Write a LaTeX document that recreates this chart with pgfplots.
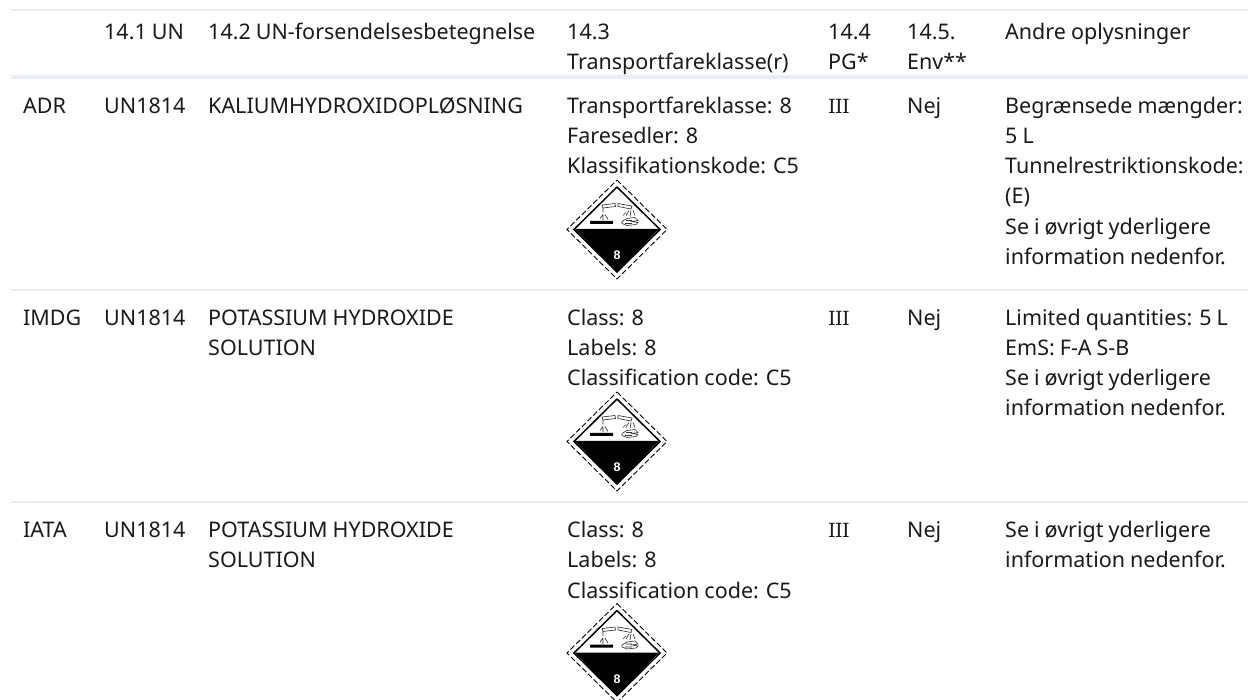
\documentclass[border=0pt]{standalone}
\usepackage{pgfplots}
\usepackage{pgfplotstable}
\pgfplotsset{compat=1.18}
\usepackage{fontspec}
\setmainfont[WordSpace=0.9]{Noto Sans}
\newfontfamily\serifnum{DejaVu Serif}
\newfontfamily\numfont{Liberation Sans}
\definecolor{rulec}{HTML}{E8EEF6}
\definecolor{txt}{HTML}{1A1A1A}
\newcommand{\T}[3]{\node[anchor=base west,inner sep=0pt,text=txt,font=\fontsize{21.5}{21.5}\selectfont] at (axis cs:#1,#2) {#3};}
\newcommand{\III}{{\serifnum\fontsize{19.5}{19.5}\selectfont I\kern-0.8pt I\kern-0.8pt I}}
\pgfplotstableread{
x y
0 -49.5
50 0
0 49.5
-50 0
0 -49.5
}\outerD
\pgfplotstableread{
x y
0 -42.5
43 0
0 42.5
-43 0
0 -42.5
}\innerD
\pgfplotstableread{
x y
-42 -0.5
42 -0.5
0 42.5
-42 -0.5
}\blackD
\pgfplotstableread{
x y
-27 -8.5
-4 -8.5
-4 -5.5
-27 -5.5
-27 -8.5
}\barD
\pgfplotstableread{
x y
-15 -24.5
-2 -26
-1.5 -23
-14 -21.5
-15 -24.5
nan nan
-14 -21.5
-14 -17
nan nan
1 -26
15 -23.5
14 -20.5
1 -23
1 -26
nan nan
-14 -15
-17 -11
nan nan
-14 -15
-14 -9
nan nan
-12 -15
-9 -10
nan nan
12 -19
9 -14
nan nan
14 -19
13 -13
nan nan
16 -19
18 -14
nan nan
9 -17
6 -14
nan nan
5 -8
10 -11
18 -12
21 -9
15 -8
21 -7
19 -5
10 -4
5 -6
5 -8
nan nan
9 -9
15 -9
nan nan
8 -6
15 -6
}\lineD
\newcommand{\D}[1]{%
\addplot[black,line width=0.9pt,dash pattern=on 5.5pt off 2.5pt] table[x expr=\thisrow{x}+617,y expr=\thisrow{y}+#1] {\outerD};
\addplot[black,line width=1.5pt] table[x expr=\thisrow{x}+617,y expr=\thisrow{y}+#1] {\innerD};
\addplot[black,fill=black,draw=none] table[x expr=\thisrow{x}+617,y expr=\thisrow{y}+#1] {\blackD};
\addplot[black,fill=black,draw=none] table[x expr=\thisrow{x}+617,y expr=\thisrow{y}+#1] {\barD};
\addplot[black!80,line width=0.65pt,unbounded coords=jump] table[x expr=\thisrow{x}+617,y expr=\thisrow{y}+#1] {\lineD};
}
\begin{document}
\begin{tikzpicture}
\useasboundingbox (0,0) rectangle (1248pt,700pt);
\begin{axis}[at={(0,0)},anchor=south west,scale only axis,width=1248pt,height=700pt,xmin=0,xmax=1248,ymin=0,ymax=700,y dir=reverse,hide axis,clip=true]
\addplot[rulec,line width=2pt] coordinates {(11,10.5) (1248,10.5)};
\addplot[rulec,line width=4pt] coordinates {(11,77) (1248,77)};
\addplot[rulec,line width=2pt] coordinates {(11,290) (1248,290)};
\addplot[rulec,line width=2pt] coordinates {(11,502) (1248,502)};
\D{229.5}
\D{441.5}
\D{653}
\node[text=white,inner sep=0pt,font=\numfont\bfseries\fontsize{12.5}{12.5}\selectfont] at (axis cs:617,255.5) {8};
\node[text=white,inner sep=0pt,font=\numfont\bfseries\fontsize{12.5}{12.5}\selectfont] at (axis cs:617,467.5) {8};
\node[text=white,inner sep=0pt,font=\numfont\bfseries\fontsize{12.5}{12.5}\selectfont] at (axis cs:617,679) {8};
\T{104}{39.5}{14.1 UN}
\T{208}{39.5}{14.2 UN-forsendelsesbetegnelse}
\T{567}{39.5}{14.3}
\T{567}{69.5}{Transportfareklasse(r)}
\T{828}{39.5}{14.4}
\T{828}{69.5}{PG*}
\T{907}{39.5}{14.5.}
\T{907}{69.5}{Env**}
\T{1005}{39.5}{Andre oplysninger}
% ADR
\T{23}{114}{ADR}
\T{104}{114}{UN1814}
\T{208}{114}{KALIUMHYDROXIDOPLØSNING}
\T{567}{114}{Transportfareklasse: 8}
\T{567}{144}{Faresedler: 8}
\T{567}{174}{Klassifikationskode: C5}
\T{828}{114}{\III}
\T{907}{114}{Nej}
\T{1005}{114}{Begrænsede mængder:}
\T{1005}{144}{5 L}
\T{1005}{174}{Tunnelrestriktionskode:}
\T{1005}{204}{(E)}
\T{1005}{234.5}{Se i øvrigt yderligere}
\T{1005}{264.5}{information nedenfor.}
% IMDG
\T{23}{325.7}{IMDG}
\T{104}{325.7}{UN1814}
\T{208}{325.7}{POTASSIUM HYDROXIDE}
\T{208}{356}{SOLUTION}
\T{567}{325.7}{Class: 8}
\T{567}{356}{Labels: 8}
\T{567}{386}{Classification code: C5}
\T{828}{325.7}{\III}
\T{907}{325.7}{Nej}
\T{1005}{325.7}{Limited quantities: 5 L}
\T{1005}{356}{EmS: F-A S-B}
\T{1005}{386}{Se i øvrigt yderligere}
\T{1005}{416}{information nedenfor.}
% IATA
\T{23}{537.5}{IATA}
\T{104}{537.5}{UN1814}
\T{208}{537.5}{POTASSIUM HYDROXIDE}
\T{208}{567.8}{SOLUTION}
\T{567}{537.5}{Class: 8}
\T{567}{567.8}{Labels: 8}
\T{567}{598}{Classification code: C5}
\T{828}{537.5}{\III}
\T{907}{537.5}{Nej}
\T{1005}{537.5}{Se i øvrigt yderligere}
\T{1005}{567.8}{information nedenfor.}
\end{axis}
\end{tikzpicture}
\end{document}
